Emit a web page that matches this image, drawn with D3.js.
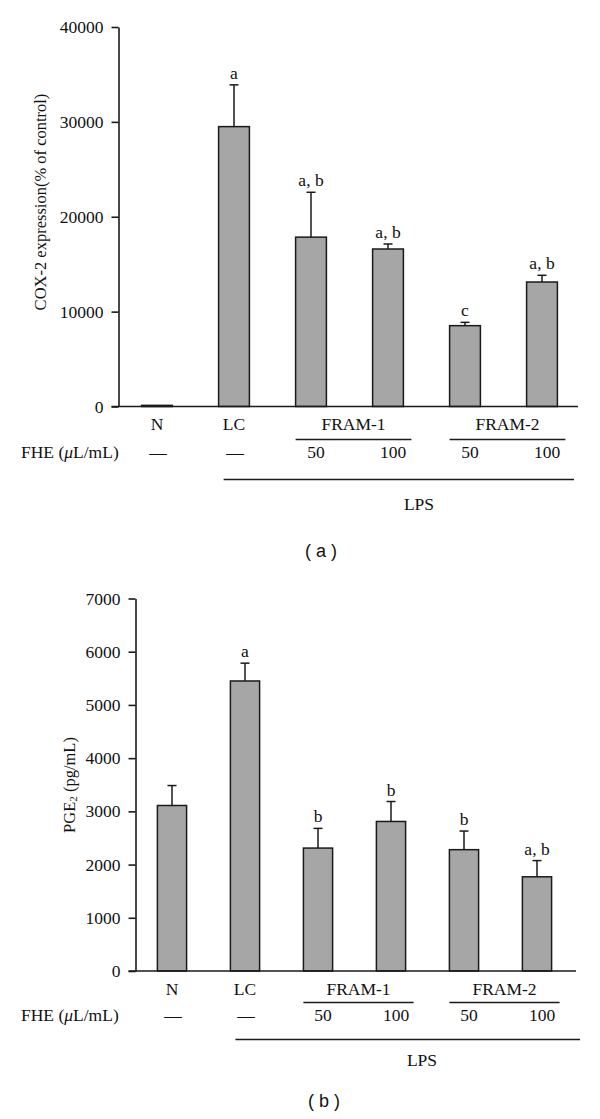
<!DOCTYPE html>
<html>
<head>
<meta charset="utf-8">
<script src="https://cdn.jsdelivr.net/npm/d3@7"></script>
<style>
  html, body { margin: 0; padding: 0; background: #fff; }
  svg { display: block; }
  text { font-family: "Liberation Serif", "Times New Roman", serif; fill: #111; }
</style>
</head>
<body>
<svg id="chart" width="600" height="1119"></svg>
<script>
// ---- data ----
const categories = ["N", "LC", "FRAM-1 50", "FRAM-1 100", "FRAM-2 50", "FRAM-2 100"];
const doseLabels = ["\u2014", "\u2014", "50", "100", "50", "100"];
const groupLabels = ["N", "LC", "FRAM-1", "FRAM-2"];

const coxValues  = [120, 29500, 17850, 16600, 8520, 13120];
const coxErrors  = [0, 4400, 4730, 530, 350, 710];
const coxLetters = ["", "a", "a, b", "a, b", "c", "a, b"];
const coxTicks   = [0, 10000, 20000, 30000, 40000];

const pgeValues  = [3110, 5450, 2310, 2810, 2280, 1770];
const pgeErrors  = [375, 335, 370, 375, 350, 305];
const pgeLetters = ["", "a", "b", "b", "b", "a, b"];
const pgeTicks   = [0, 1000, 2000, 3000, 4000, 5000, 6000, 7000];

const svg = d3.select("#chart");
const barFill = "#a6a6a6";
const ink = "#1a1a1a";
const FS = "17.5px";

function drawPanel(cfg) {
  const g = svg.append("g");
  const y = d3.scaleLinear().domain([0, cfg.ymax]).range([cfg.y0, cfg.y1]);
  const x = d3.scaleBand().domain(categories).range(cfg.xRange)
              .paddingInner(0.6).paddingOuter(0.3);
  const bw = x.bandwidth();

  // y axis
  const ax = g.append("g").attr("transform", `translate(${cfg.xRange[0]},0)`)
    .call(d3.axisLeft(y).tickValues(cfg.ticks).tickSize(7).tickSizeOuter(0).tickPadding(8).tickFormat(d3.format("d")));
  ax.select(".domain").attr("stroke", ink).attr("stroke-width", 1.6);
  ax.selectAll(".tick line").attr("stroke", ink).attr("stroke-width", 1.6);
  ax.selectAll(".tick text").style("font-family", "Liberation Serif").style("font-size", FS).attr("fill", "#111");

  // bars
  g.selectAll("rect.bar").data(cfg.values).enter().append("rect")
    .attr("x", (d, i) => x(categories[i]))
    .attr("y", d => y(d))
    .attr("width", bw)
    .attr("height", d => y(0) - y(d))
    .attr("fill", barFill).attr("stroke", ink).attr("stroke-width", 1.5);

  // error bars
  cfg.values.forEach((v, i) => {
    const e = cfg.errors[i];
    if (!e) return;
    const cx = x(categories[i]) + bw / 2;
    g.append("line").attr("x1", cx).attr("x2", cx).attr("y1", y(v)).attr("y2", y(v + e))
      .attr("stroke", ink).attr("stroke-width", 1.5);
    g.append("line").attr("x1", cx - 4.5).attr("x2", cx + 4.5).attr("y1", y(v + e)).attr("y2", y(v + e))
      .attr("stroke", ink).attr("stroke-width", 1.5);
  });

  // significance letters
  cfg.values.forEach((v, i) => {
    if (!cfg.letters[i]) return;
    const cx = x(categories[i]) + bw / 2;
    g.append("text").attr("x", cx).attr("y", y(v + cfg.errors[i]) - 6)
      .attr("text-anchor", "middle").style("font-size", FS).text(cfg.letters[i]);
  });

  // baseline
  g.append("line").attr("x1", cfg.xRange[0] - 7).attr("x2", cfg.baseEnd)
    .attr("y1", y(0)).attr("y2", y(0)).attr("stroke", ink).attr("stroke-width", 1.6);

  // y label
  const yl = g.append("text")
    .attr("transform", `translate(${cfg.ylabX},${cfg.ylabY}) rotate(-90)`)
    .attr("text-anchor", "middle").attr("dominant-baseline", "central")
    .style("font-size", "16.5px");
  cfg.ylab(yl);

  // group / category labels
  const c = i => x(categories[i]) + bw / 2;
  const rowY = cfg.catY;
  const groupX = [c(0), c(1)];
  const ul1 = [x(categories[2]), x(categories[3]) + bw + 8];
  const ul2 = [x(categories[4]), x(categories[5]) + bw + 8];
  groupX.push((ul1[0] + ul1[1]) / 2, (ul2[0] + ul2[1]) / 2);
  groupLabels.forEach((lab, i) => {
    g.append("text").attr("x", groupX[i]).attr("y", rowY).attr("dy", "0.35em")
      .attr("text-anchor", "middle").style("font-size", FS).text(lab);
  });
  [ul1, ul2].forEach(u => {
    g.append("line").attr("x1", u[0]).attr("x2", u[1]).attr("y1", cfg.ulY).attr("y2", cfg.ulY)
      .attr("stroke", ink).attr("stroke-width", 1.4);
  });

  // dose row
  g.append("text").attr("x", 21).attr("y", cfg.doseY).attr("dy", "0.35em")
    .style("font-size", FS)
    .call(t => {
      t.append("tspan").text("FHE (");
      t.append("tspan").style("font-style", "italic").text("\u03bc");
      t.append("tspan").text("L/mL)");
    });
  doseLabels.forEach((lab, i) => {
    g.append("text").attr("x", c(i) + (i > 1 ? 5 : 1)).attr("y", cfg.doseY).attr("dy", "0.35em")
      .attr("text-anchor", "middle").style("font-size", FS).text(lab);
  });

  // LPS line
  g.append("line").attr("x1", x(categories[1]) + 5).attr("x2", cfg.lpsEnd)
    .attr("y1", cfg.lpsY).attr("y2", cfg.lpsY).attr("stroke", ink).attr("stroke-width", 1.5);
  g.append("text").attr("x", c(3) + 31).attr("y", cfg.lpsTextY).attr("dy", "0.35em")
    .attr("text-anchor", "middle").style("font-size", FS).text("LPS");

  // caption
  g.append("text").attr("x", cfg.capX).attr("y", cfg.capY).attr("dy", "0.35em")
    .attr("text-anchor", "middle")
    .style("font-family", "Liberation Sans, Arial, sans-serif").style("font-size", "18px")
    .text(cfg.caption);
}

drawPanel({
  values: coxValues, errors: coxErrors, letters: coxLetters, ticks: coxTicks,
  ymax: 40000, y0: 406.5, y1: 27, xRange: [118.5, 580.5], baseEnd: 578,
  ylabX: 40, ylabY: 202,
  ylab: t => t.text("COX-2 expression(% of control)"),
  catY: 423.5, ulY: 439.5, doseY: 452, lpsY: 479.5, lpsTextY: 503.5, lpsEnd: 574,
  capX: 321, capY: 551, caption: "( a )"
});

drawPanel({
  values: pgeValues, errors: pgeErrors, letters: pgeLetters, ticks: pgeTicks,
  ymax: 7000, y0: 971, y1: 598.5, xRange: [135.5, 573.5], baseEnd: 576,
  ylabX: 69, ylabY: 785,
  ylab: t => {
    t.append("tspan").text("PGE");
    t.append("tspan").attr("dy", 4).style("font-size", "11px").text("2");
    t.append("tspan").attr("dy", -4).text(" (pg/mL)");
  },
  catY: 988.5, ulY: 1002.5, doseY: 1015, lpsY: 1039.5, lpsTextY: 1060, lpsEnd: 580,
  capX: 324, capY: 1101, caption: "( b )"
});
</script>
</body>
</html>
